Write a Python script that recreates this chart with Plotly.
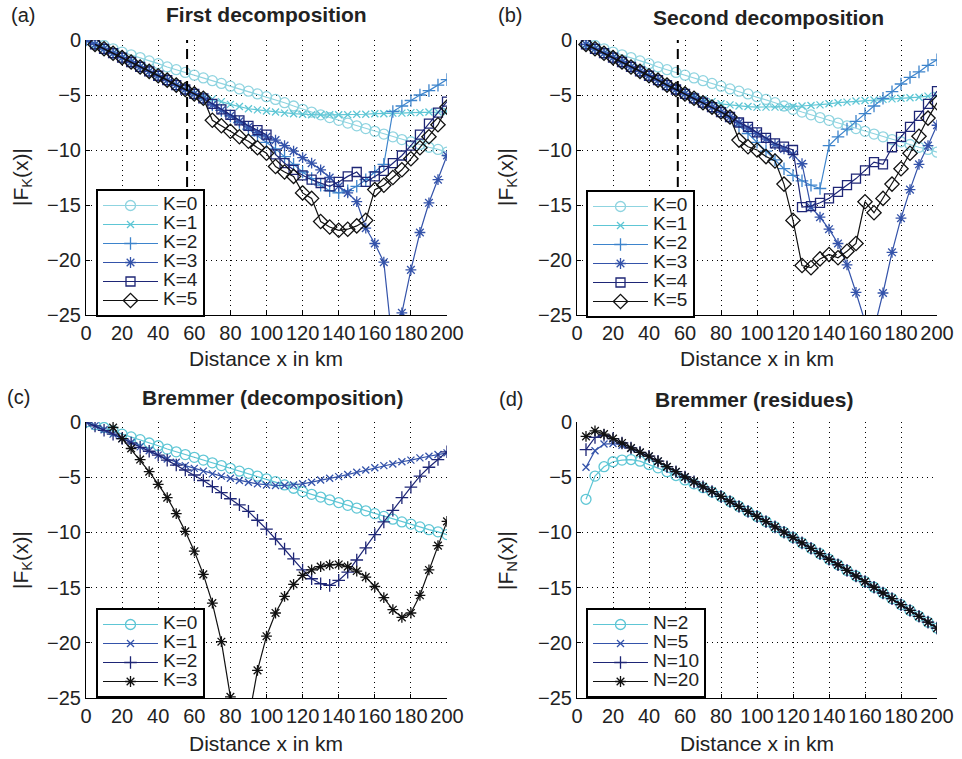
import plotly.graph_objects as go

X = list(range(0, 205, 5))  # 0..200 km, 41 points
N = None

# ---------- shared reference curve (K=0) ----------
K0 = [0, -0.25, -0.5, -0.8, -1.1, -1.35, -1.6, -1.9, -2.15, -2.45, -2.7, -2.95, -3.2, -3.45,
      -3.7, -3.95, -4.2, -4.45, -4.65, -4.9, -5.15, -5.4, -5.7, -6.0, -6.3, -6.55, -6.8, -7.05,
      -7.3, -7.55, -7.8, -8.05, -8.3, -8.55, -8.8, -9.05, -9.25, -9.5, -9.75, -9.95, -10.2]

# ---------- (a) First decomposition ----------
A_K1 = [0, -0.4, -0.8, -1.2, -1.6, -2.0, -2.45, -2.85, -3.25, -3.65, -4.1, -4.5, -4.85, -5.15,
        -5.35, -5.6, -5.85, -6.05, -6.25, -6.35, -6.45, -6.55, -6.65, -6.7, -6.75, -6.8, -6.8,
        -6.8, -6.8, -6.8, -6.75, -6.75, -6.7, -6.7, -6.65, -6.65, -6.6, -6.6, -6.55, -6.55, -6.5]
A_K2 = [0, -0.4, -0.8, -1.2, -1.6, -2.0, -2.45, -2.85, -3.25, -3.65, -4.1, -4.5, -4.9, -5.3,
        -5.9, -6.4, -6.9, -7.5, -8.1, -8.7, -9.3, -9.9, -10.6, -11.3, -12.0, -12.6, -13.2,
        -13.7, -13.9, -13.7, -13.3, -12.7, -12.0, -11.3, -6.5, -6.0, -5.5, -5.0, -4.6, -4.1, -3.6]
A_K3 = [0, -0.4, -0.8, -1.2, -1.6, -2.0, -2.45, -2.85, -3.25, -3.65, -4.1, -4.5, -4.9, -5.3,
        -5.9, -6.4, -6.9, -7.4, -7.9, -8.4, -8.8, -9.1, -9.6, -10.1, -10.7, -11.2, -11.8,
        -12.5, -13.3, -13.9, -14.7, -17.1, -18.5, -20.2, -28.0, -24.8, -20.9, -17.5, -14.8, -12.7, -10.5]
A_K4 = [N, -0.4, -0.8, -1.2, -1.6, -2.0, -2.45, -2.85, -3.25, -3.65, -4.1, -4.5, -4.9, -5.3,
        -5.8, -6.3, -6.8, -7.3, -7.8, -8.2, -8.6, -10.4, -11.2, -11.8, -12.3, -12.7, -13.0,
        -13.3, -12.9, -12.4, -12.0, -12.9, -12.4, -11.9, -11.2, -10.5, -9.6, -8.6, -7.6, -6.6, -5.6]
A_K5 = [N, -0.4, -0.8, -1.2, -1.6, -2.0, -2.45, -2.85, -3.25, -3.65, -4.1, -4.5, -4.9, -5.3,
        -7.3, -7.8, -8.3, -8.8, -9.2, -9.8, -10.3, -11.5, -12.0, -12.4, -13.9, -14.4, -16.5,
        -17.0, -17.3, -17.2, -16.9, -16.4, -13.6, -13.2, -12.5, -11.8, -10.8, -9.8, -8.8, -7.7, -6.1]

# ---------- (b) Second decomposition ----------
B_K0 = [N] + K0[1:]
B_K1 = [N, -0.4, -0.8, -1.2, -1.6, -2.0, -2.45, -2.85, -3.25, -3.65, -4.1, -4.5, -4.85, -5.1,
        -5.4, -5.6, -5.8, -5.9, -6.0, -6.05, -6.1, -6.1, -6.1, -6.1, -6.05, -6.0, -5.95,
        -5.9, -5.8, -5.7, -5.65, -5.55, -5.5, -5.45, -5.4, -5.35, -5.3, -5.25, -5.2, -5.1, -5.05]
B_K2 = [N, -0.4, -0.8, -1.2, -1.6, -2.0, -2.45, -2.85, -3.25, -3.65, -4.1, -4.5, -4.9, -5.3,
        -5.7, -6.1, -6.55, -7.0, -7.8, -8.5, -9.3, -10.1, -10.9, -11.7, -12.3, -12.8, -13.2,
        -13.5, -9.6, -8.8, -8.1, -7.4, -6.7, -6.0, -5.3, -4.7, -4.0, -3.4, -2.9, -2.3, -1.8]
B_K3 = [N, -0.4, -0.8, -1.2, -1.6, -2.0, -2.45, -2.85, -3.25, -3.65, -4.1, -4.5, -4.9, -5.3,
        -5.7, -6.1, -6.55, -7.0, -7.5, -8.0, -8.5, -9.0, -9.5, -9.9, -10.4, -11.25, -15.2,
        -16.1, -17.2, -18.5, -20.45, -22.95, -25.6, -26.3, -23.0, -19.3, -16.2, -13.6, -11.3, -9.6, -7.75]
B_K4 = [N, -0.4, -0.8, -1.2, -1.6, -2.0, -2.45, -2.85, -3.25, -3.65, -4.1, -4.5, -4.9, -5.3,
        -5.7, -6.1, -6.55, -7.0, -7.5, -7.9, -8.4, -8.9, -9.4, -9.7, -10.0, -15.2, -15.1,
        -14.8, -14.4, -13.8, -13.2, -12.6, -11.85, -11.1, -11.3, -9.75, -8.8, -7.9, -6.9, -5.8, -4.65]
B_K5 = [N, -0.4, -0.8, -1.2, -1.6, -2.0, -2.45, -2.85, -3.25, -3.65, -4.1, -4.5, -4.9, -5.3,
        -5.7, -6.1, -6.55, -7.0, -9.1, -9.7, -10.0, -10.6, -11.0, -13.1, -16.4, -20.5, -20.7,
        -19.9, -19.5, -19.8, -19.2, -18.5, -14.7, -15.7, -14.4, -13.1, -11.7, -10.3, -8.75, -7.1, -5.7]

# ---------- (c) Bremmer (decomposition) ----------
C_K1 = [0, -0.35, -0.7, -1.1, -1.5, -1.85, -2.25, -2.6, -3.0, -3.35, -3.65, -3.95, -4.2, -4.45,
        -4.7, -4.9, -5.1, -5.3, -5.45, -5.6, -5.7, -5.75, -5.75, -5.7, -5.6, -5.45, -5.25,
        -5.1, -4.95, -4.75, -4.55, -4.35, -4.15, -3.95, -3.8, -3.6, -3.45, -3.25, -3.1, -2.95, -2.8]
C_K2 = [0, -0.35, -0.75, -1.1, -1.5, -1.9, -2.3, -2.65, -3.0, -3.45, -3.9, -4.35, -4.8, -5.3,
        -5.85, -6.4, -6.95, -7.5, -8.1, -8.9, -9.7, -10.6, -11.5, -12.4, -13.4, -14.2, -14.65,
        -14.8, -14.35, -13.6, -12.5, -11.4, -10.2, -9.05, -8.0, -6.85, -5.9, -4.9, -4.1, -3.4, -2.7]
C_K3 = [N, N, N, -0.5, -1.5, -2.4, -3.4, -4.5, -5.65, -6.85, -8.3, -9.9, -11.7, -13.8,
        -16.4, -19.9, -24.9, -28.5, -27.0, -22.5, -19.4, -17.3, -15.8, -14.7, -13.9, -13.4, -13.1,
        -12.95, -12.9, -13.1, -13.5, -14.05, -14.9, -15.9, -17.0, -17.7, -17.3, -15.7, -13.4, -11.2, -9.0]

# ---------- (d) Bremmer (residues) ----------
D_N2 = [N, -7.0, -4.9, -4.05, -3.6, -3.45, -3.4, -3.55, -3.85, -4.15, -4.5, -4.85, -5.25, -5.6,
        -5.95, -6.35, -6.74, -7.2, -7.65, -8.1, -8.55, -9.02, -9.5, -9.98, -10.46, -10.95, -11.44,
        -11.93, -12.43, -12.93, -13.44, -13.95, -14.46, -14.97, -15.49, -16.0, -16.55, -17.07, -17.6, -18.13, -18.67]
D_N5 = [N, -4.1, -2.6, -2.0, -1.95, -2.1, -2.4, -2.75, -3.1, -3.55, -4.05, -4.5, -4.98, -5.42,
        -5.87, -6.3, -6.74, -7.2, -7.65, -8.1, -8.55, -9.02, -9.5, -9.98, -10.46, -10.95, -11.44,
        -11.93, -12.43, -12.93, -13.44, -13.95, -14.46, -14.97, -15.49, -16.0, -16.55, -17.07, -17.6, -18.13, -18.67]
D_N10 = [N, -2.5, -1.4, -1.2, -1.5, -1.9, -2.35, -2.75, -3.1, -3.55, -4.05, -4.5, -4.98, -5.42,
         -5.87, -6.3, -6.74, -7.2, -7.65, -8.1, -8.55, -9.02, -9.5, -9.98, -10.46, -10.95, -11.44,
         -11.93, -12.43, -12.93, -13.44, -13.95, -14.46, -14.97, -15.49, -16.0, -16.55, -17.07, -17.6, -18.13, -18.67]
D_N20 = [N, -1.3, -0.8, -1.1, -1.5, -1.9, -2.35, -2.75, -3.1, -3.55, -4.05, -4.5, -4.98, -5.42,
         -5.87, -6.3, -6.74, -7.2, -7.65, -8.1, -8.55, -9.02, -9.5, -9.98, -10.46, -10.95, -11.44,
         -11.93, -12.43, -12.93, -13.44, -13.95, -14.46, -14.97, -15.49, -16.0, -16.55, -17.07, -17.6, -18.13, -18.67]

DASH_X = 56
X_TICKS = list(range(0, 201, 20))
Y_TICKS = [0, -5, -10, -15, -20, -25]

# ---------- styles ----------
FONT = "Liberation Sans, Arial, sans-serif"
TXT = "#222222"
C_LCYAN = "#8fd4e0"
C_CYAN = "#5ec6d5"
C_MID = "#3d84cc"
C_BLUE = "#3453aa"
C_NAVY = "#1e2676"
C_BLACK = "#111111"

SYM = {
    "o": dict(symbol="circle-open", size=10),
    "x": dict(symbol="x-thin-open", size=7),
    "+": dict(symbol="cross-thin-open", size=9),
    "*": dict(symbol="asterisk-open", size=9),
    "s": dict(symbol="square-open", size=9),
    "d": dict(symbol="diamond-open", size=11),
}

W, H = 962, 759
def px_x(p): return p / W
def px_y(p): return 1 - p / H

panels = [
    ("", (86, 447), (40, 315), "legend"),
    ("2", (577, 937), (40, 315), "legend2"),
    ("3", (86, 447), (422, 698), "legend3"),
    ("4", (577, 937), (422, 698), "legend4"),
]

series = [
    (0, "K=0", K0, C_LCYAN, "o"), (0, "K=1", A_K1, C_CYAN, "x"), (0, "K=2", A_K2, C_MID, "+"),
    (0, "K=3", A_K3, C_BLUE, "*"), (0, "K=4", A_K4, C_NAVY, "s"), (0, "K=5", A_K5, C_BLACK, "d"),
    (1, "K=0", B_K0, C_LCYAN, "o"), (1, "K=1", B_K1, C_CYAN, "x"), (1, "K=2", B_K2, C_MID, "+"),
    (1, "K=3", B_K3, C_BLUE, "*"), (1, "K=4", B_K4, C_NAVY, "s"), (1, "K=5", B_K5, C_BLACK, "d"),
    (2, "K=0", K0, C_CYAN, "o"), (2, "K=1", C_K1, C_BLUE, "x"), (2, "K=2", C_K2, C_NAVY, "+"),
    (2, "K=3", C_K3, C_BLACK, "*"),
    (3, "N=2", D_N2, C_CYAN, "o"), (3, "N=5", D_N5, C_BLUE, "x"), (3, "N=10", D_N10, C_NAVY, "+"),
    (3, "N=20", D_N20, C_BLACK, "*"),
]

LEG_TXT = 19  # legend label glyph size (entry spacing set by legend font size)

fig = go.Figure()
for pi, name, ys, col, m in series:
    suf, _, _, leg = panels[pi]
    fig.add_trace(go.Scatter(
        x=X, y=ys, name='<span style="font-size:%dpx">%s</span>' % (LEG_TXT, name),
        mode="lines+markers",
        xaxis="x" + suf, yaxis="y" + suf, legend=leg,
        line=dict(color=col, width=1.2),
        marker=dict(symbol=SYM[m]["symbol"], size=SYM[m]["size"], color=col,
                    line=dict(color=col, width=1.3)),
        connectgaps=False,
    ))

layout = dict(
    template="none",
    width=W, height=H, margin=dict(l=0, r=0, t=0, b=0, autoexpand=False),
    paper_bgcolor="white", plot_bgcolor="white",
    font=dict(family=FONT, size=18, color=TXT),
    showlegend=True,
)

axis_common = dict(
    showline=True, linecolor="black", linewidth=1, mirror=False,
    ticks="inside", ticklen=4, tickcolor="black", tickwidth=1,
    showgrid=True, gridcolor="black", gridwidth=1, griddash="1px,4px",
    zeroline=False, automargin=False, tickfont=dict(size=20, color=TXT),
)

legend_pos = {
    "legend": (96, 189), "legend2": (586, 190), "legend3": (96, 608), "legend4": (586, 608),
}

for suf, (x0, x1), (y0, y1), leg in panels:
    layout["xaxis" + suf] = dict(axis_common, domain=[px_x(x0), px_x(x1)], range=[0, 200],
                                 tickvals=X_TICKS, anchor="y" + suf)
    layout["yaxis" + suf] = dict(axis_common, domain=[px_y(y1), px_y(y0)], range=[-25, 0],
                                 tickvals=Y_TICKS, anchor="x" + suf)
    lx, ly = legend_pos[leg]
    layout[leg] = dict(x=px_x(lx), y=px_y(ly), xanchor="left", yanchor="top",
                       bgcolor="white", bordercolor="black", borderwidth=2,
                       font=dict(size=12, color=TXT), itemwidth=55,
                       tracegroupgap=0)

fig.update_layout(**layout)

# dashed vertical lines in (a) and (b)
for suf in ["", "2"]:
    fig.add_shape(type="line", xref="x" + suf, yref=("y" + suf) + " domain",
                  x0=DASH_X, x1=DASH_X, y0=0, y1=1,
                  line=dict(color="black", width=2, dash="10px,6px"))

titles = [
    ("First decomposition", 266, 15, "(a)", 23, 15, "|F<sub>K</sub>(x)|", 22, 177, 266, 358),
    ("Second decomposition", 768, 17, "(b)", 510, 15, "|F<sub>K</sub>(x)|", 507, 177, 757, 358),
    ("Bremmer (decomposition)", 272, 397, "(c)", 18, 397, "|F<sub>K</sub>(x)|", 22, 560, 266, 743),
    ("Bremmer (residues)", 754, 399, "(d)", 511, 399, "|F<sub>N</sub>(x)|", 507, 560, 757, 743),
]
for t, tx, ty, lab, lx, ly, ytit, yx, yy, xx, xy in titles:
    fig.add_annotation(text="<b>" + t + "</b>", x=px_x(tx), y=px_y(ty), xref="paper", yref="paper",
                       showarrow=False, font=dict(size=21, color=TXT),
                       xanchor="center", yanchor="middle")
    fig.add_annotation(text=lab, x=px_x(lx), y=px_y(ly), xref="paper", yref="paper",
                       showarrow=False, font=dict(size=20, color=TXT),
                       xanchor="center", yanchor="middle")
    fig.add_annotation(text=ytit, x=px_x(yx), y=px_y(yy), xref="paper", yref="paper",
                       showarrow=False, textangle=-90, font=dict(size=21, color=TXT),
                       xanchor="center", yanchor="middle")
    fig.add_annotation(text="Distance x in km", x=px_x(xx), y=px_y(xy), xref="paper", yref="paper",
                       showarrow=False, font=dict(size=21, color=TXT),
                       xanchor="center", yanchor="middle")

fig.write_html("out.html", config={"displayModeBar": False},
               post_script="document.body.style.margin='0px';document.body.style.overflow='hidden';")
